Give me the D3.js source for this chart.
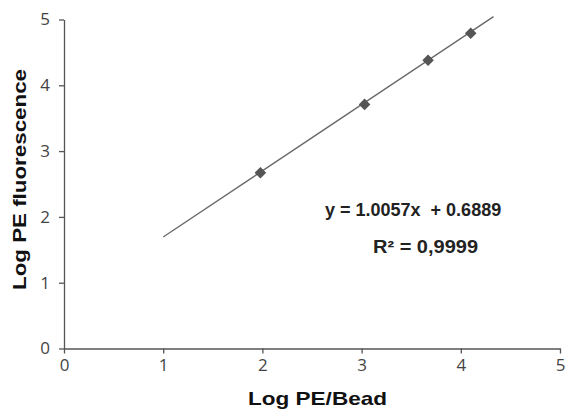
<html>
<head>
<script src="https://cdnjs.cloudflare.com/ajax/libs/d3/7.8.5/d3.min.js"></script>
<style>
  body { margin: 0; background: #fff; }
  svg { font-family: "Liberation Sans", Arial, sans-serif; }
  .axis path, .axis line { stroke: #555; stroke-width: 1.3px; }
  .axis text { font-size: 17px; fill: #444; font-family: "Open Sans", "Liberation Sans", sans-serif; }
</style>
</head>
<body>
<svg width="567" height="411"></svg>
<script>
var pointX = [1.98, 3.03, 3.67, 4.10];
var pointY = [2.67, 3.71, 4.38, 4.79];
var slope = 1.0057, intercept = 0.6889;
var fitRange = [1, 4.33];
var xTicks = [0, 1, 2, 3, 4, 5];
var yTicks = [0, 1, 2, 3, 4, 5];

var svg = d3.select("svg");
var x = d3.scaleLinear().domain([0, 5]).range([64, 560]);
var y = d3.scaleLinear().domain([0, 5]).range([348.5, 19.5]);

svg.append("g").attr("class", "axis")
  .attr("transform", "translate(0,348.5)")
  .call(d3.axisBottom(x).tickValues(xTicks).tickFormat(d3.format("d")).tickSize(5).tickSizeOuter(0).tickPadding(5));
svg.append("g").attr("class", "axis")
  .attr("transform", "translate(64,0)")
  .call(d3.axisLeft(y).tickValues(yTicks).tickFormat(d3.format("d")).tickSize(5).tickSizeOuter(0).tickPadding(9));

var line = d3.line().x(function(d){ return x(d); }).y(function(d){ return y(slope * d + intercept); });
svg.append("path").datum(fitRange)
  .attr("d", line)
  .attr("stroke", "#6a6a6a").attr("stroke-width", 1.4).attr("fill", "none");

var diamond = d3.symbol().type(d3.symbolDiamond2).size(85);
svg.selectAll(".pt").data(pointX).enter().append("path")
  .attr("class", "pt")
  .attr("d", diamond)
  .attr("transform", function(d, i){ return "translate(" + x(d) + "," + y(pointY[i]) + ")"; })
  .attr("fill", "#555");

svg.append("text").attr("x", 325).attr("y", 216)
  .attr("font-size", 18).attr("font-weight", "bold").attr("fill", "#222")
  .attr("xml:space", "preserve")
  .text("y = 1.0057x  + 0.6889");
svg.append("text").attr("x", 373).attr("y", 253)
  .attr("font-size", 18).attr("font-weight", "bold").attr("fill", "#222")
  .attr("textLength", 105).attr("lengthAdjust", "spacingAndGlyphs")
  .text("R² = 0,9999");

svg.append("text").attr("x", 248).attr("y", 405)
  .attr("font-size", 19).attr("font-weight", "bold").attr("fill", "#111")
  .attr("textLength", 139).attr("lengthAdjust", "spacingAndGlyphs")
  .text("Log PE/Bead");
svg.append("text").attr("transform", "translate(26,290) rotate(-90)")
  .attr("font-size", 19).attr("font-weight", "bold").attr("fill", "#111")
  .attr("textLength", 221).attr("lengthAdjust", "spacingAndGlyphs")
  .text("Log PE fluorescence");
</script>
</body>
</html>
